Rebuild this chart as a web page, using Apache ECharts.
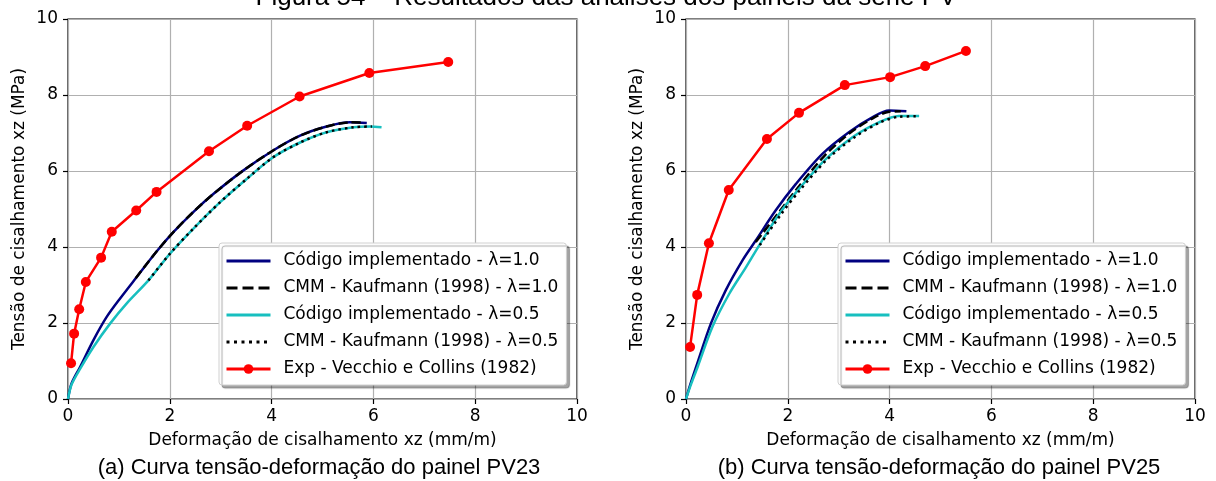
<!DOCTYPE html>
<html>
<head>
<meta charset="utf-8">
<script src="https://cdn.jsdelivr.net/npm/echarts@6/dist/echarts.min.js"></script>
<style>
  html, body { margin: 0; padding: 0; background: #fff; }
  #chart { width: 1216px; height: 481px; }
</style>
</head>
<body>
<div id="chart"></div>
<script>
// axis ticks (both axes, both panels)
var axisTicks = [0, 2, 4, 6, 8, 10];

var seriesNames = [
  'Código implementado - λ=1.0',
  'CMM - Kaufmann (1998) - λ=1.0',
  'Código implementado - λ=0.5',
  'CMM - Kaufmann (1998) - λ=0.5',
  'Exp - Vecchio e Collins (1982)'
];

// painel PV23
var pv23CodeL10X = [0, 0.07, 0.24, 0.5, 0.76, 1.02, 1.35, 1.74, 2.07, 2.46, 2.86, 3.44, 4.03, 4.56, 5.08, 5.54, 5.87];
var pv23CodeL10Y = [0, 0.41, 0.85, 1.55, 2.16, 2.64, 3.21, 3.88, 4.39, 4.92, 5.40, 6.01, 6.54, 6.93, 7.17, 7.28, 7.26];
var pv23CmmL10X = [1.33, 1.74, 2.07, 2.46, 2.86, 3.44, 4.03, 4.56, 5.08, 5.54, 5.82];
var pv23CmmL10Y = [3.18, 3.88, 4.39, 4.92, 5.40, 6.01, 6.54, 6.93, 7.17, 7.28, 7.27];
var pv23CodeL05X = [0, 0.07, 0.24, 0.5, 0.83, 1.15, 1.58, 2.0, 2.46, 2.99, 3.51, 4.03, 4.56, 5.08, 5.61, 5.93, 6.16];
var pv23CodeL05Y = [0, 0.38, 0.80, 1.37, 1.99, 2.51, 3.12, 3.82, 4.48, 5.18, 5.79, 6.36, 6.75, 7.02, 7.15, 7.17, 7.15];
var pv23CmmL05X = [1.58, 2.0, 2.46, 2.99, 3.51, 4.03, 4.56, 5.08, 5.61, 5.97];
var pv23CmmL05Y = [3.12, 3.82, 4.48, 5.18, 5.79, 6.36, 6.75, 7.02, 7.15, 7.17];
var pv23ExpX = [0.06, 0.12, 0.22, 0.35, 0.65, 0.86, 1.34, 1.74, 2.77, 3.52, 4.55, 5.92, 7.47];
var pv23ExpY = [0.94, 1.72, 2.36, 3.08, 3.72, 4.40, 4.96, 5.45, 6.52, 7.19, 7.96, 8.58, 8.87];

// painel PV25
var pv25CodeL10X = [0, 0.07, 0.2, 0.49, 0.78, 1.11, 1.37, 1.76, 2.16, 2.68, 3.2, 3.66, 3.99, 4.33];
var pv25CodeL10Y = [0, 0.32, 0.85, 1.99, 2.86, 3.65, 4.17, 4.96, 5.66, 6.45, 7.02, 7.41, 7.59, 7.57];
var pv25CmmL10X = [1.37, 1.83, 2.22, 2.72, 3.22, 3.66, 3.99, 4.22];
var pv25CmmL10Y = [4.13, 4.92, 5.60, 6.40, 7.00, 7.38, 7.56, 7.57];
var pv25CodeL05X = [0, 0.08, 0.23, 0.52, 0.85, 1.18, 1.45, 1.83, 2.22, 2.75, 3.27, 3.79, 4.18, 4.58];
var pv25CodeL05Y = [0, 0.32, 0.85, 1.90, 2.77, 3.47, 4.07, 4.87, 5.53, 6.32, 6.89, 7.28, 7.45, 7.45];
var pv25CmmL05X = [1.45, 1.85, 2.24, 2.77, 3.29, 3.80, 4.20, 4.55];
var pv25CmmL05Y = [4.05, 4.83, 5.50, 6.30, 6.87, 7.27, 7.43, 7.44];
var pv25ExpX = [0.08, 0.22, 0.45, 0.84, 1.59, 2.22, 3.12, 4.01, 4.70, 5.50];
var pv25ExpY = [1.37, 2.74, 4.10, 5.50, 6.84, 7.53, 8.26, 8.47, 8.76, 9.16];

function pairs(xs, ys) {
  return xs.map(function (x, i) { return [x, ys[i]]; });
}

var chart = echarts.init(document.getElementById('chart'));

var font = 'DejaVu Sans';
var lw = 2.5;

function makeSeries(idx, data) {
  // data: [codeL10, cmmL10, codeL05, cmmL05, exp]
  return [
    { name: seriesNames[0], type: 'line', xAxisIndex: idx, yAxisIndex: idx, data: data[0],
      symbol: 'none', smooth: 0.3, lineStyle: { color: '#000080', width: lw }, itemStyle: { color: '#000080' }, z: 2 },
    { name: seriesNames[1], type: 'line', xAxisIndex: idx, yAxisIndex: idx, data: data[1],
      symbol: 'none', smooth: 0.3, lineStyle: { color: '#000', width: lw, type: [9, 4] }, itemStyle: { color: '#000' }, z: 3 },
    { name: seriesNames[2], type: 'line', xAxisIndex: idx, yAxisIndex: idx, data: data[2],
      symbol: 'none', smooth: 0.3, lineStyle: { color: '#17bfbf', width: lw }, itemStyle: { color: '#17bfbf' }, z: 4 },
    { name: seriesNames[3], type: 'line', xAxisIndex: idx, yAxisIndex: idx, data: data[3],
      symbol: 'none', smooth: 0.3, lineStyle: { color: '#000', width: lw, type: [2.5, 4] }, itemStyle: { color: '#000' }, z: 5 },
    { name: seriesNames[4], type: 'line', xAxisIndex: idx, yAxisIndex: idx, data: data[4],
      symbol: 'circle', symbolSize: 10, lineStyle: { color: '#ff0000', width: lw }, itemStyle: { color: '#ff0000' }, z: 6 }
  ];
}

function makeXAxis(idx) {
  return {
    type: 'value', gridIndex: idx,
    min: axisTicks[0], max: axisTicks[axisTicks.length - 1], interval: axisTicks[1] - axisTicks[0],
    name: 'Deformação de cisalhamento xz (mm/m)', nameLocation: 'middle', nameGap: 33,
    nameTextStyle: { fontFamily: font, fontSize: 17, color: '#000' },
    axisLine: { show: false },
    axisTick: { show: true, length: 5, lineStyle: { color: '#000', width: 1.2 } },
    axisLabel: { fontFamily: font, fontSize: 17, color: '#000', margin: 9 },
    splitLine: { show: true, lineStyle: { color: '#b0b0b0', width: 1.2 } }
  };
}

function makeYAxis(idx) {
  return {
    type: 'value', gridIndex: idx,
    min: axisTicks[0], max: axisTicks[axisTicks.length - 1], interval: axisTicks[1] - axisTicks[0],
    name: 'Tensão de cisalhamento xz (MPa)', nameLocation: 'middle', nameGap: 40,
    nameTextStyle: { fontFamily: font, fontSize: 17, color: '#000' },
    axisLine: { show: false },
    axisTick: { show: true, length: 5, lineStyle: { color: '#000', width: 1.2 } },
    axisLabel: { fontFamily: font, fontSize: 17, color: '#000', margin: 10 },
    splitLine: { show: true, lineStyle: { color: '#b0b0b0', width: 1.2 } }
  };
}

function makeLegend(left) {
  var hidden = { color: 'rgba(0,0,0,0)', borderColor: 'rgba(0,0,0,0)', borderWidth: 0, opacity: 0 };
  var dashes = [null, [11, 5], null, [3, 4.5], null];
  return {
    orient: 'vertical', left: left, top: 243,
    data: seriesNames.map(function (n, i) {
      if (i === 4) return { name: n };
      var item = { name: n, itemStyle: hidden };
      if (dashes[i]) item.lineStyle = { width: 3, type: dashes[i] };
      return item;
    }),
    itemWidth: 44, itemHeight: 12, itemGap: 9,
    padding: [9, 8, 7, 6],
    lineStyle: { width: 3 },
    backgroundColor: '#fff', borderColor: '#d0d0d0', borderWidth: 1, borderRadius: 3,
    shadowColor: 'rgba(0,0,0,0.35)', shadowBlur: 1, shadowOffsetX: 3, shadowOffsetY: 3,
    textStyle: { fontFamily: font, fontSize: 17, color: '#000', lineHeight: 18, padding: [0, 0, 0, 8] },
    selectedMode: false
  };
}

chart.setOption({
  animation: false,
  backgroundColor: '#fff',
  grid: [
    { left: 68, right: 639, top: 19, bottom: 82, show: true, borderColor: '#000', borderWidth: 1.2, backgroundColor: 'transparent' },
    { left: 686, right: 21, top: 19, bottom: 82, show: true, borderColor: '#000', borderWidth: 1.2, backgroundColor: 'transparent' }
  ],
  xAxis: [makeXAxis(0), makeXAxis(1)],
  yAxis: [makeYAxis(0), makeYAxis(1)],
  legend: [makeLegend(219), makeLegend(838)],
  graphic: [
    { type: 'text', x: 606, y: -2, style: { text: 'Figura 54 – Resultados das análises dos painéis da série PV',
      font: '26px "Liberation Sans", Arial, sans-serif', fill: '#000', textAlign: 'center', textVerticalAlign: 'middle' } },
    { type: 'text', x: 319, y: 468, style: { text: '(a) Curva tensão-deformação do painel PV23',
      font: '22px "Liberation Sans", Arial, sans-serif', fill: '#000', textAlign: 'center', textVerticalAlign: 'middle' } },
    { type: 'text', x: 939, y: 468, style: { text: '(b) Curva tensão-deformação do painel PV25',
      font: '22px "Liberation Sans", Arial, sans-serif', fill: '#000', textAlign: 'center', textVerticalAlign: 'middle' } }
  ],
  series: makeSeries(0, [
    pairs(pv23CodeL10X, pv23CodeL10Y), pairs(pv23CmmL10X, pv23CmmL10Y),
    pairs(pv23CodeL05X, pv23CodeL05Y), pairs(pv23CmmL05X, pv23CmmL05Y),
    pairs(pv23ExpX, pv23ExpY)
  ]).concat(makeSeries(1, [
    pairs(pv25CodeL10X, pv25CodeL10Y), pairs(pv25CmmL10X, pv25CmmL10Y),
    pairs(pv25CodeL05X, pv25CodeL05Y), pairs(pv25CmmL05X, pv25CmmL05Y),
    pairs(pv25ExpX, pv25ExpY)
  ]))
});
</script>
</body>
</html>
